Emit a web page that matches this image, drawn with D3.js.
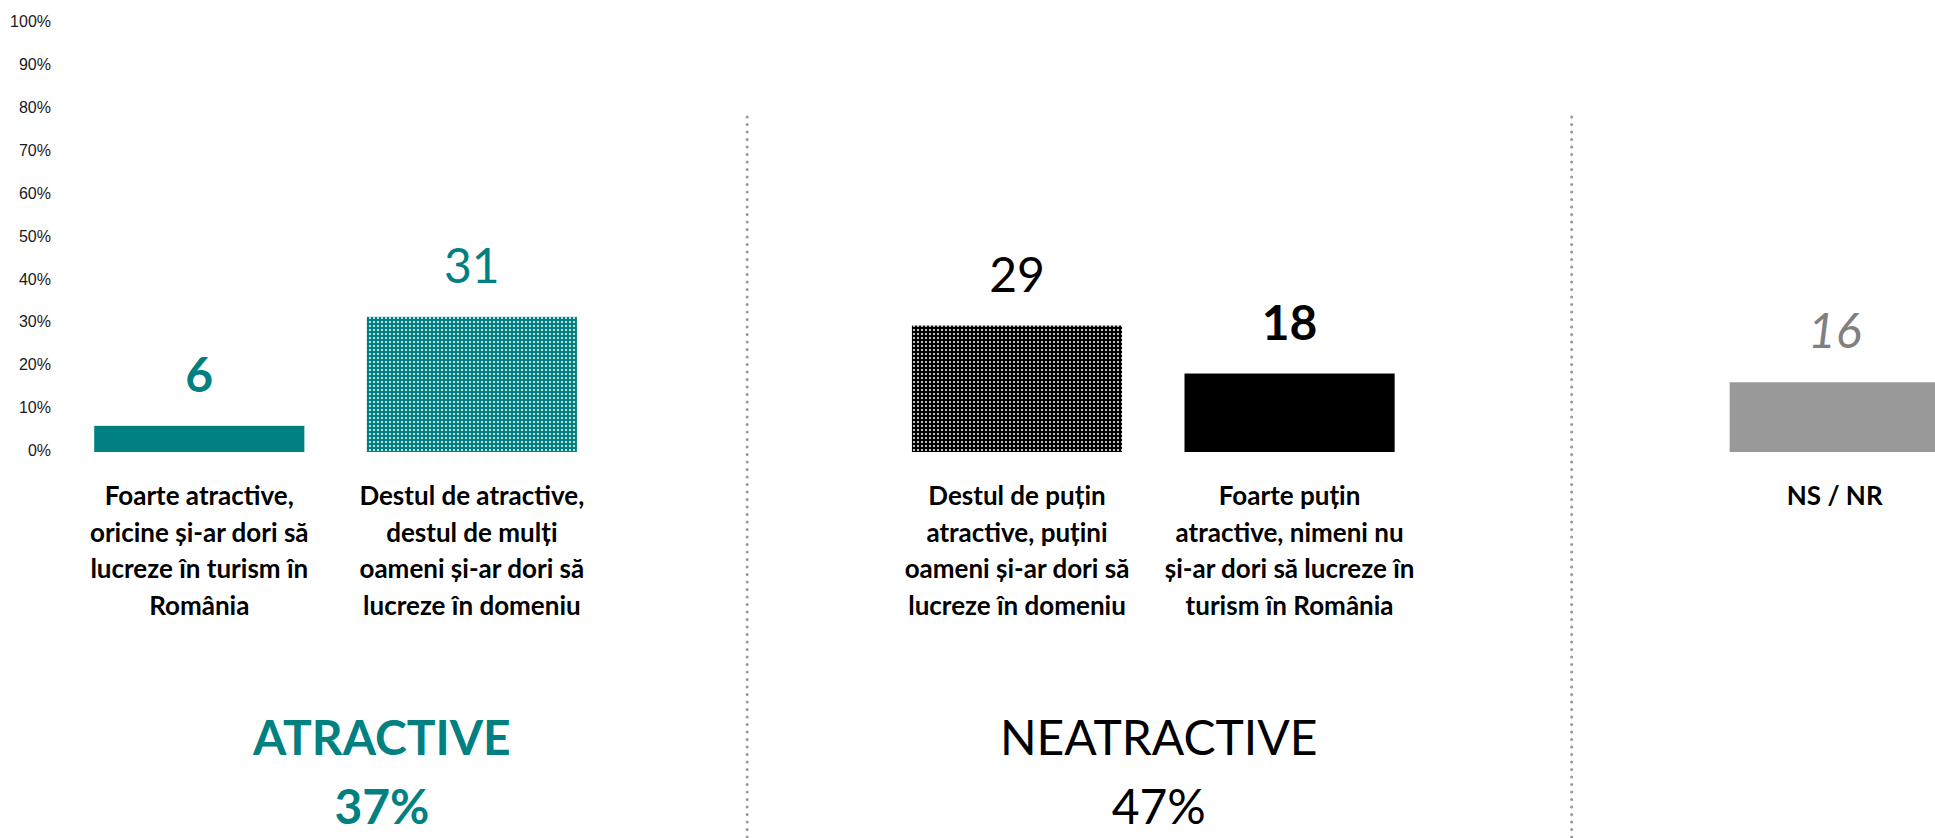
<!DOCTYPE html>
<html>
<head>
<meta charset="utf-8">
<script src="https://cdn.jsdelivr.net/npm/d3@7"></script>
<style>
	body { margin: 0; background: #fff; }
	svg { display: block; }
</style>
</head>
<body>
<svg id="chart" width="1935" height="838"></svg>
<script>
// Data
const categories = ["Foarte atractive", "Destul de atractive", "Destul de puțin atractive", "Foarte puțin atractive", "NS / NR"];
const values = [6, 31, 29, 18, 16];
const labelLines = [
	["Foarte atractive,", "oricine și-ar dori să", "lucreze în turism în", "România"],
	["Destul de atractive,", "destul de mulți", "oameni și-ar dori să", "lucreze în domeniu"],
	["Destul de puțin", "atractive, puțini", "oameni și-ar dori să", "lucreze în domeniu"],
	["Foarte puțin", "atractive, nimeni nu", "și-ar dori să lucreze în", "turism în România"],
	["NS / NR"]
];
// slot of every bar, the empty slots hold the dotted separators
const slots = [0, 1, 3, 4, 6];
const yTicks = [0, 10, 20, 30, 40, 50, 60, 70, 80, 90, 100];
const groups = ["ATRACTIVE", "NEATRACTIVE"];
const groupTotals = [37, 47];

// Styles
const teal = "#008080";
const fills = ["teal", "url(#dots-teal)", "url(#dots-black)", "black", "#999999"];
const valueColors = [teal, teal, "#000", "#000", "#808080"];
const valueWeights = ["bold", "normal", "normal", "bold", "normal"];
const valueStyles = ["normal", "normal", "normal", "normal", "italic"];
const groupColors = [teal, "#000"];
const groupWeights = ["bold", "normal"];
const groupPos = [1.17, 4.02];
const sepPos = [2.51, 5.535];

const svg = d3.select("#chart");

// Patterns
const defs = svg.append("defs");
function dots(id, base) {
	const p = defs.append("pattern")
		.attr("id", id)
		.attr("width", 4)
		.attr("height", 4)
		.attr("patternUnits", "userSpaceOnUse");
	p.append("rect").attr("width", 4).attr("height", 4).attr("fill", base);
	p.append("rect").attr("x", 1).attr("y", 1).attr("width", 2).attr("height", 2).attr("fill", "#fff").attr("opacity", 0.75);
}
dots("dots-teal", teal);
dots("dots-black", "#000");

// Scales
const x = d3.scaleBand()
	.domain(d3.range(7))
	.range([63, 1971])
	.paddingInner(0.229)
	.paddingOuter(0.1145);

const y = d3.scaleLinear()
	.domain([0, 100])
	.range([452, 16]);

// tick labels sit a little off the bars' scale
const yLabel = d3.scaleLinear()
	.domain([0, 100])
	.range([450, 21]);

const slotX = s => x.range()[0] + s * x.step();

// Y axis
const yAxis = d3.axisLeft(yLabel)
	.tickValues(yTicks)
	.tickFormat(d => d + "%")
	.tickSize(0)
	.tickPadding(0);

svg.append("g")
	.attr("transform", "translate(51, 0)")
	.call(yAxis)
	.call(g => g.select(".domain").remove())
	.call(g => g.selectAll("text")
		.attr("dy", "0.35em")
		.style("font-family", "'Liberation Sans', Arial, sans-serif")
		.style("font-size", "16px")
		.style("fill", "#1a1a1a"));

// Separators
svg.append("g")
	.selectAll("line")
	.data(sepPos)
	.join("line")
	.attr("x1", d => slotX(d))
	.attr("x2", d => slotX(d))
	.attr("y1", 117)
	.attr("y2", 845)
	.attr("stroke", "#999")
	.attr("stroke-width", 3)
	.attr("stroke-linecap", "round")
	.attr("stroke-dasharray", "0 7.5");

// Bars
svg.append("g")
	.selectAll("rect")
	.data(values)
	.join("rect")
	.attr("x", (d, i) => x(slots[i]))
	.attr("y", d => y(d))
	.attr("width", x.bandwidth())
	.attr("height", d => y(0) - y(d))
	.attr("fill", (d, i) => fills[i]);

// Value labels
svg.append("g")
	.selectAll("text")
	.data(values)
	.join("text")
	.attr("x", (d, i) => x(slots[i]) + x.bandwidth() / 2)
	.attr("y", d => y(d) - 34)
	.attr("text-anchor", "middle")
	.style("font-family", "Lato, sans-serif")
	.style("font-size", "48px")
	.style("fill", (d, i) => valueColors[i])
	.style("font-weight", (d, i) => valueWeights[i])
	.style("font-style", (d, i) => valueStyles[i])
	.text(d => d);

// Category labels
svg.append("g")
	.selectAll("text")
	.data(labelLines)
	.join("text")
	.attr("x", (d, i) => x(slots[i]) + x.bandwidth() / 2)
	.attr("y", 505)
	.attr("text-anchor", "middle")
	.style("font-family", "Lato, sans-serif")
	.style("font-size", "26px")
	.style("font-weight", "bold")
	.style("fill", "#000")
	.each(function (lines) {
		d3.select(this)
			.selectAll("tspan")
			.data(lines)
			.join("tspan")
			.attr("x", d3.select(this).attr("x"))
			.attr("dy", (l, j) => j === 0 ? 0 : 36.5)
			.text(l => l);
	});

// Group labels
const g = svg.append("g")
	.selectAll("text")
	.data(groups)
	.join("text")
	.attr("x", (d, i) => slotX(groupPos[i]))
	.attr("y", 755)
	.attr("text-anchor", "middle")
	.style("font-family", "Lato, sans-serif")
	.style("font-size", "48px")
	.style("fill", (d, i) => groupColors[i])
	.style("font-weight", (d, i) => groupWeights[i]);

g.append("tspan")
	.text(d => d);

g.append("tspan")
	.attr("x", (d, i) => slotX(groupPos[i]))
	.attr("dy", 69)
	.text((d, i) => groupTotals[i] + "%");
</script>
</body>
</html>
